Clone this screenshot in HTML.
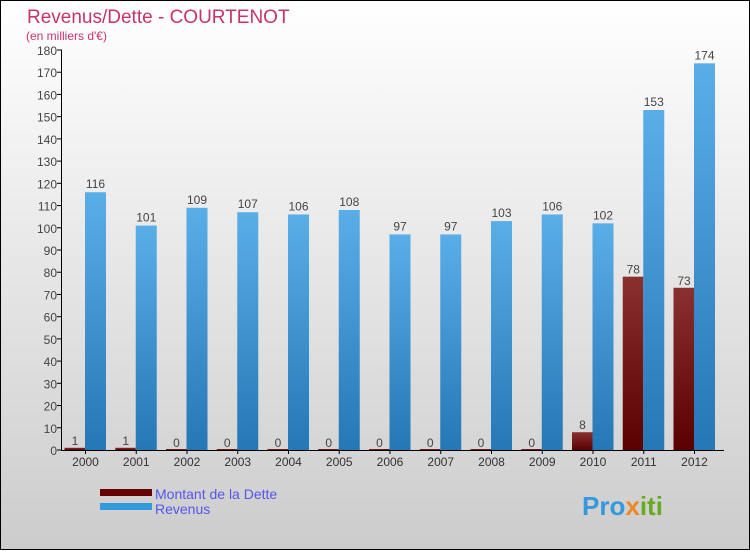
<!DOCTYPE html>
<html><head><meta charset="utf-8"><style>
body{margin:0}
#c{width:750px;height:550px;position:relative;font-family:"Liberation Sans",sans-serif}
</style></head><body>
<div id="c">
<svg id="s" width="750" height="550" xmlns="http://www.w3.org/2000/svg">
<defs>
<linearGradient id="bg" x1="0" y1="0" x2="0" y2="1"><stop offset="0" stop-color="#ffffff"/><stop offset="1" stop-color="#cccccc"/></linearGradient>
<linearGradient id="gb" x1="0" y1="0" x2="0" y2="1"><stop offset="0" stop-color="#5aaee8"/><stop offset="1" stop-color="#2577b5"/></linearGradient>
<linearGradient id="gd" x1="0" y1="0" x2="0" y2="1"><stop offset="0" stop-color="#8a3030"/><stop offset="1" stop-color="#5a0000"/></linearGradient>
</defs>
<rect x="0.5" y="0.5" width="749" height="549" fill="url(#bg)" stroke="#000"/>
<text x="27" y="23" font-size="19" fill="#c8336a">Revenus/Dette - COURTENOT</text>
<text x="26" y="40" font-size="12" fill="#c8336a">(en milliers d'€)</text>
<g id="plot"></g>
<rect x="100" y="489" width="52" height="7" fill="#660000"/>
<rect x="100" y="503" width="52" height="7" fill="#3399dd"/>
<text x="155" y="499" font-size="14" fill="#5555ee">Montant de la Dette</text>
<text x="155" y="514" font-size="14" fill="#5555ee">Revenus</text>
<text x="582" y="515" font-size="26" font-weight="bold" fill="#3399dd">Pro<tspan fill="#ee8822">x</tspan><tspan fill="#66aa22">iti</tspan></text>
</svg>
</div>
<script>
const years=["2000","2001","2002","2003","2004","2005","2006","2007","2008","2009","2010","2011","2012"];
const dette=[1,1,0,0,0,0,0,0,0,0,8,78,73];
const revenus=[116,101,109,107,106,108,97,97,103,106,102,153,174];
const yTicks=[0,10,20,30,40,50,60,70,80,90,100,110,120,130,140,150,160,170,180];
const NS="http://www.w3.org/2000/svg";
const g=document.getElementById('plot');
const y0=450,yTop=50,yMax=180;
const y=v=>y0-(v/yMax)*(y0-yTop);
const gx=i=>64.5+i*50.75;
function mk(t,a,txt){const e=document.createElementNS(NS,t);for(const k in a)e.setAttribute(k,a[k]);if(txt!==undefined)e.textContent=txt;g.appendChild(e);return e;}
years.forEach((yr,i)=>{
  const x=gx(i);
  const d=mk('rect',{x:x,y:Math.min(y(dette[i]),y0-1),width:20.5,height:Math.max(y0-y(dette[i]),1),fill:'url(#gd)'});
  
  
  const r=mk('rect',{x:x+20.5,y:y(revenus[i]),width:21,height:y0-y(revenus[i]),fill:'url(#gb)'});
  
  
  const dl=mk('text',{x:x+10.5,y:y(dette[i])-3,'font-size':12,fill:'#444','text-anchor':'middle'},dette[i]);
  
  
  const rl=mk('text',{x:x+31,y:y(revenus[i])-4,'font-size':12,fill:'#444','text-anchor':'middle'},revenus[i]);
  
  
  const xl=mk('text',{x:x+21,y:466,'font-size':12,fill:'#333','text-anchor':'middle'},yr);
  
  
  const tk=mk('line',{x1:x+21,x2:x+21,y1:450,y2:454,stroke:'#000'});
  
  
});
yTicks.forEach(v=>{
  const t=mk('text',{x:57,y:y(v)+5,'font-size':12,fill:'#444','text-anchor':'end'},v);
  
  
  const l=mk('line',{x1:57,x2:62,y1:y(v),y2:y(v),stroke:'#000'});
  
  
});
const ya=mk('line',{x1:61.5,x2:61.5,y1:50,y2:450,stroke:'#000'});


const xa=mk('line',{x1:61,x2:724,y1:450.5,y2:450.5,stroke:'#000'});


</script>
</body></html>
